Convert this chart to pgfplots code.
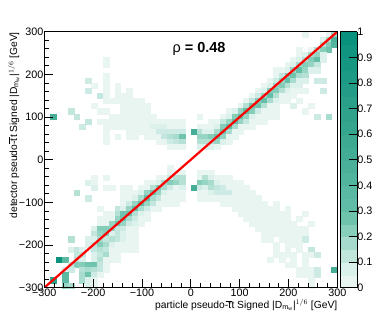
\documentclass[border=0pt]{standalone}
\usepackage{pgfplots}
\pgfplotsset{compat=1.18}
\usepackage{fontspec}
\setmainfont{Liberation Sans}
\pgfplotsset{colormap={rootteal}{rgb255(0)=(232,245,241); rgb255(1)=(232,245,241); rgb255(2)=(205,235,228); rgb255(3)=(180,225,212); rgb255(4)=(150,212,196); rgb255(5)=(120,200,178); rgb255(6)=(100,190,168); rgb255(10)=(70,174,150); rgb255(14)=(45,160,138); rgb255(20)=(5,145,125)}}
\newcommand{\ttbar}{t\kern0.3pt\rlap{\raisebox{0.72em}{\kern-0.55em\rule{0.6em}{0.4pt}}}t}
\begin{document}
\begin{tikzpicture}[x=1bp,y=1bp]
\path[use as bounding box] (0,0) rectangle (374,324);
\begin{axis}[
  at={(44.3bp,36.3bp)},anchor=south west,
  scale only axis,width=293bp,height=256bp,
  xmin=-300,xmax=300,ymin=-300,ymax=300,
  xtick={-300,-200,-100,0,100,200,300},
  ytick={-300,-200,-100,0,100,200,300},
  xticklabels={−300,−200,−100,0,100,200,300},
  yticklabels={−300,−200,−100,0,100,200,300},
  minor tick num=4,
  tick align=inside,
  xtick pos=bottom,ytick pos=left,
  major tick length=8.5bp,minor tick length=4.3bp,
  tick style={black,line width=0.7bp},
  axis line style={line width=0.8bp},
  tick label style={font=\fontsize{10.8bp}{12bp}\selectfont},
  xticklabel style={yshift=2bp},
  yticklabel style={xshift=2.5bp},
  point meta min=0,point meta max=1,
  colormap name=rootteal,
  colorbar sampled,
  colorbar style={samples=21,width=16.6bp,
    at={(parent axis.north east)},anchor=north west,xshift=-5.4bp,
    ytick={0,0.1,0.2,0.3,0.4,0.5,0.6,0.7,0.8,0.9,1},
    yticklabels={0,0.1,0.2,0.3,0.4,0.5,0.6,0.7,0.8,0.9,1},
    ytick pos=right,yticklabel pos=right,tick align=inside,
    major tick length=8bp,
    yticklabel style={xshift=-3.2bp,font=\fontsize{10.8bp}{12bp}\selectfont},
    axis line style={line width=0.8bp},
    tick style={black,line width=0.7bp}},
  clip mode=individual,axis on top,
]
\addplot[scatter,only marks,point meta=explicit,mark=square*,mark size=2.93bp,
  scatter/use mapped color={draw=mapped color,fill=mapped color},
  mark options={yscale=0.874,line width=0.1bp}] coordinates {
(-174,234)[.05] (-174,222)[.05] (-174,198)[.05]
(-210,186)[.1] (-174,186)[.05]
(-198,174)[.05] (-174,174)[.05] (-150,174)[.05]
(-210,162)[.1] (-174,162)[.05] (-150,162)[.05] (-126,162)[.05]
(-186,150)[.12] (-174,150)[.05] (-150,150)[.05] (-138,150)[.05] (-126,150)[.05]
(-174,138)[.05] (-162,138)[.05] (-150,138)[.05] (-138,138)[.05] (-126,138)[.05] (-114,138)[.05] (-102,138)[.05]
(-198,126)[.05] (-138,126)[.05] (-126,126)[.05] (-114,126)[.05] (-102,126)[.05] (-90,126)[.05]
(-246,114)[.12] (-186,114)[.05] (-174,114)[.05] (-138,114)[.05] (-126,114)[.05] (-114,114)[.05] (-102,114)[.05] (-90,114)[.05]
(-282,102)[.5] (-234,102)[.12] (-162,102)[.05] (-150,102)[.05] (-138,102)[.05] (-126,102)[.05] (-114,102)[.05] (-102,102)[.05] (-90,102)[.05] (-78,102)[.05]
(-210,90)[.12] (-186,90)[.05] (-174,90)[.05] (-162,90)[.05] (-150,90)[.05] (-138,90)[.05] (-126,90)[.05] (-114,90)[.05] (-102,90)[.05] (-90,90)[.05] (-78,90)[.05] (-66,90)[.05] (-54,90)[.05] (-42,90)[.05] (-30,90)[.05] (-18,90)[.05]
(-222,78)[.1] (-174,78)[.05] (-162,78)[.05] (-150,78)[.05] (-138,78)[.05] (-126,78)[.05] (-114,78)[.05] (-102,78)[.05] (-90,78)[.05] (-78,78)[.07] (-66,78)[.07] (-54,78)[.07] (-42,78)[.05] (-30,78)[.05] (-18,78)[.05]
(-174,66)[.05] (-126,66)[.05] (-114,66)[.05] (-102,66)[.05] (-90,66)[.05] (-78,66)[.05] (-66,66)[.1] (-54,66)[.1] (-42,66)[.1] (-30,66)[.1] (-18,66)[.1]
(-174,54)[.05] (-150,54)[.05] (-126,54)[.05] (-114,54)[.05] (-90,54)[.05] (-78,54)[.05] (-66,54)[.05] (-54,54)[.12] (-42,54)[.15] (-30,54)[.17] (-18,54)[.27]
(-174,42)[.05] (-66,42)[.05] (-54,42)[.05] (-42,42)[.1] (-30,42)[.12] (-18,42)[.15]
(-42,30)[.05] (-30,30)[.05] (-18,30)[.05]
% upper right
(234,294)[.05] (282,294)[.05] (294,294)[.2]
(270,282)[.07] (282,282)[.17] (294,282)[.45]
(270,270)[.15] (282,270)[.23] (294,270)[.4]
(222,258)[.05] (246,258)[.05] (258,258)[.15] (270,258)[.23] (282,258)[.27]
(222,246)[.05] (234,246)[.07] (246,246)[.17] (258,246)[.2] (270,246)[.07]
(210,234)[.05] (222,234)[.07] (234,234)[.15] (246,234)[.23] (258,234)[.3] (270,234)[.07]
(198,222)[.05] (210,222)[.07] (222,222)[.17] (234,222)[.23] (246,222)[.2] (258,222)[.12]
(174,210)[.05] (186,210)[.05] (198,210)[.07] (210,210)[.2] (222,210)[.3] (234,210)[.2] (246,210)[.07] (258,210)[.07]
(174,198)[.05] (186,198)[.12] (198,198)[.23] (210,198)[.27] (222,198)[.17] (234,198)[.15]
(162,186)[.05] (174,186)[.1] (186,186)[.2] (198,186)[.3] (210,186)[.17] (222,186)[.07] (234,186)[.07] (258,186)[.1] (270,186)[.1]
(150,174)[.05] (162,174)[.07] (174,174)[.2] (186,174)[.23] (198,174)[.15] (210,174)[.07] (222,174)[.07]
(138,162)[.05] (150,162)[.07] (162,162)[.23] (174,162)[.23] (186,162)[.15] (198,162)[.07] (210,162)[.05] (222,162)[.05] (234,162)[.05] (270,162)[.1]
(126,150)[.05] (138,150)[.1] (150,150)[.2] (162,150)[.3] (174,150)[.15] (186,150)[.05] (198,150)[.05] (210,150)[.05]
(114,138)[.05] (126,138)[.12] (138,138)[.23] (150,138)[.3] (162,138)[.17] (174,138)[.07] (186,138)[.05] (198,138)[.05] (222,138)[.05]
(102,126)[.05] (114,126)[.15] (126,126)[.27] (138,126)[.27] (150,126)[.15] (162,126)[.05] (174,126)[.05] (210,126)[.07] (246,126)[.05]
(78,114)[.05] (90,114)[.07] (102,114)[.2] (114,114)[.3] (126,114)[.23] (138,114)[.1] (150,114)[.05] (162,114)[.05] (174,114)[.05] (234,114)[.05]
(18,102)[.05] (66,102)[.05] (78,102)[.07] (90,102)[.23] (102,102)[.3] (114,102)[.2] (126,102)[.07] (138,102)[.05] (150,102)[.05] (162,102)[.05] (174,102)[.05] (258,102)[.1] (282,102)[.17]
(42,90)[.05] (54,90)[.05] (66,90)[.12] (78,90)[.2] (90,90)[.3] (102,90)[.2] (114,90)[.12] (126,90)[.05] (138,90)[.05] (150,90)[.05]
(18,78)[.05] (30,78)[.05] (42,78)[.05] (54,78)[.07] (66,78)[.23] (78,78)[.3] (90,78)[.17] (102,78)[.05] (114,78)[.05] (126,78)[.05]
(6,66)[.5] (18,66)[.15] (30,66)[.07] (42,66)[.07] (54,66)[.17] (66,66)[.27] (78,66)[.17] (90,66)[.05] (102,66)[.05]
(18,54)[.2] (30,54)[.2] (42,54)[.23] (54,54)[.27] (66,54)[.2] (78,54)[.05] (90,54)[.05]
(18,42)[.15] (30,42)[.15] (42,42)[.15] (54,42)[.2] (66,42)[.07] (78,42)[.05]
(18,30)[.07] (30,30)[.07] (42,30)[.07] (54,30)[.05]
% lower left
(-42,-18)[.05]
(-42,-30)[.05] (-30,-30)[.05] (-18,-30)[.05]
(-198,-42)[.05] (-174,-42)[.05] (-66,-42)[.05] (-54,-42)[.05] (-42,-42)[.1] (-30,-42)[.15] (-18,-42)[.15]
(-210,-54)[.07] (-198,-54)[.05] (-90,-54)[.05] (-78,-54)[.05] (-66,-54)[.07] (-54,-54)[.17] (-42,-54)[.23] (-30,-54)[.2] (-18,-54)[.15]
(-198,-66)[.07] (-174,-66)[.05] (-162,-66)[.05] (-138,-66)[.05] (-126,-66)[.05] (-102,-66)[.05] (-90,-66)[.05] (-78,-66)[.15] (-66,-66)[.23] (-54,-66)[.17] (-42,-66)[.1] (-30,-66)[.05] (-18,-66)[.07]
(-234,-78)[.15] (-138,-78)[.05] (-126,-78)[.05] (-114,-78)[.05] (-102,-78)[.07] (-90,-78)[.2] (-78,-78)[.27] (-66,-78)[.2] (-54,-78)[.07] (-42,-78)[.05] (-30,-78)[.05] (-18,-78)[.05]
(-210,-90)[.1] (-138,-90)[.05] (-126,-90)[.05] (-114,-90)[.07] (-102,-90)[.17] (-90,-90)[.3] (-78,-90)[.17] (-66,-90)[.12] (-54,-90)[.05] (-42,-90)[.05] (-30,-90)[.05] (-18,-90)[.05]
(-138,-102)[.05] (-126,-102)[.1] (-114,-102)[.2] (-102,-102)[.3] (-90,-102)[.2] (-78,-102)[.12] (-66,-102)[.05] (-54,-102)[.05] (-42,-102)[.05] (-30,-102)[.05]
(-186,-114)[.05] (-150,-114)[.12] (-138,-114)[.07] (-126,-114)[.2] (-114,-114)[.3] (-102,-114)[.17] (-90,-114)[.1] (-78,-114)[.05] (-66,-114)[.05]
(-174,-126)[.05] (-162,-126)[.05] (-150,-126)[.15] (-138,-126)[.27] (-126,-126)[.27] (-114,-126)[.15] (-102,-126)[.07] (-90,-126)[.05]
(-186,-138)[.05] (-174,-138)[.05] (-162,-138)[.05] (-150,-138)[.2] (-138,-138)[.27] (-126,-138)[.17] (-114,-138)[.1] (-102,-138)[.05] (-90,-138)[.05]
(-186,-150)[.05] (-174,-150)[.05] (-162,-150)[.2] (-150,-150)[.27] (-138,-150)[.2] (-126,-150)[.1] (-114,-150)[.07] (-102,-150)[.05]
(-198,-162)[.07] (-186,-162)[.23] (-174,-162)[.23] (-162,-162)[.2] (-150,-162)[.12] (-138,-162)[.1] (-126,-162)[.05] (-114,-162)[.05]
(-198,-174)[.12] (-186,-174)[.2] (-174,-174)[.23] (-162,-174)[.07] (-150,-174)[.12] (-138,-174)[.07] (-126,-174)[.05] (-114,-174)[.05]
(-246,-186)[.15] (-210,-186)[.07] (-198,-186)[.07] (-186,-186)[.17] (-174,-186)[.12] (-162,-186)[.15] (-150,-186)[.12] (-138,-186)[.07] (-126,-186)[.05] (-114,-186)[.05]
(-210,-198)[.07] (-198,-198)[.12] (-186,-198)[.23] (-174,-198)[.17] (-162,-198)[.07] (-150,-198)[.05] (-138,-198)[.05] (-126,-198)[.05] (-114,-198)[.05]
(-246,-210)[.07] (-234,-210)[.12] (-222,-210)[.07] (-198,-210)[.12] (-186,-210)[.15] (-174,-210)[.12] (-162,-210)[.05] (-150,-210)[.05] (-138,-210)[.05] (-126,-210)[.05] (-114,-210)[.05]
(-234,-222)[.12] (-222,-222)[.12] (-198,-222)[.07] (-186,-222)[.12] (-174,-222)[.17] (-162,-222)[.05] (-150,-222)[.05]
(-270,-234)[.95] (-258,-234)[.35] (-234,-234)[.15] (-222,-234)[.07] (-198,-234)[.07] (-186,-234)[.15] (-174,-234)[.05] (-162,-234)[.05] (-150,-234)[.05]
(-246,-246)[.12] (-234,-246)[.23] (-222,-246)[.23] (-210,-246)[.27] (-198,-246)[.27] (-186,-246)[.12] (-174,-246)[.05]
(-258,-258)[.07] (-246,-258)[.1] (-222,-258)[.15] (-210,-258)[.17] (-198,-258)[.15] (-186,-258)[.12] (-174,-258)[.05]
(-258,-270)[.35] (-222,-270)[.17] (-210,-270)[.27] (-198,-270)[.1] (-186,-270)[.05]
(-282,-282)[.7] (-258,-282)[.35] (-222,-282)[.17] (-210,-282)[.07] (-198,-282)[.05]
(-258,-294)[.2] (-246,-294)[.17] (-210,-294)[.07] (-198,-294)[.05]
% lower right
(18,-30)[.05] (30,-30)[.05] (42,-30)[.05]
(18,-42)[.05] (30,-42)[.15] (42,-42)[.07] (54,-42)[.05] (66,-42)[.05] (78,-42)[.05]
(18,-54)[.23] (30,-54)[.2] (42,-54)[.17] (54,-54)[.07] (66,-54)[.05] (78,-54)[.05] (90,-54)[.05] (102,-54)[.05]
(6,-66)[.5] (18,-66)[.1] (30,-66)[.07] (42,-66)[.15] (54,-66)[.12] (66,-66)[.1] (78,-66)[.05] (90,-66)[.05] (102,-66)[.05] (114,-66)[.05]
(18,-78)[.05] (30,-78)[.05] (42,-78)[.07] (54,-78)[.1] (66,-78)[.1] (78,-78)[.1] (90,-78)[.05] (102,-78)[.05] (114,-78)[.05] (126,-78)[.05]
(18,-90)[.05] (30,-90)[.05] (42,-90)[.05] (54,-90)[.05] (66,-90)[.05] (78,-90)[.05] (90,-90)[.05] (102,-90)[.05] (114,-90)[.05] (126,-90)[.05] (138,-90)[.05]
(66,-102)[.05] (78,-102)[.05] (90,-102)[.05] (102,-102)[.05] (114,-102)[.05] (126,-102)[.05] (138,-102)[.05] (150,-102)[.05] (174,-102)[.05]
(90,-114)[.05] (102,-114)[.05] (114,-114)[.05] (126,-114)[.05] (138,-114)[.05] (150,-114)[.05] (162,-114)[.05] (174,-114)[.05] (198,-114)[.05]
(102,-126)[.05] (114,-126)[.05] (126,-126)[.05] (138,-126)[.05] (150,-126)[.05] (162,-126)[.05] (174,-126)[.05] (186,-126)[.05] (198,-126)[.05] (234,-126)[.05]
(114,-138)[.05] (126,-138)[.05] (138,-138)[.05] (150,-138)[.05] (162,-138)[.05] (174,-138)[.05] (186,-138)[.05] (198,-138)[.05] (222,-138)[.05]
(126,-150)[.05] (138,-150)[.05] (150,-150)[.05] (162,-150)[.05] (174,-150)[.05] (186,-150)[.05] (198,-150)[.05] (210,-150)[.05] (246,-150)[.05]
(138,-162)[.05] (150,-162)[.05] (162,-162)[.05] (174,-162)[.05] (186,-162)[.05] (198,-162)[.05] (210,-162)[.05] (222,-162)[.05] (234,-162)[.05]
(150,-174)[.05] (162,-174)[.05] (174,-174)[.05] (186,-174)[.05] (198,-174)[.05] (210,-174)[.05] (222,-174)[.05] (234,-174)[.05]
(150,-186)[.05] (162,-186)[.05] (186,-186)[.05] (198,-186)[.05] (210,-186)[.05] (222,-186)[.05] (234,-186)[.1]
(174,-198)[.05] (198,-198)[.05] (210,-198)[.05] (222,-198)[.05]
(174,-210)[.05] (198,-210)[.05] (222,-210)[.05] (246,-210)[.12]
(174,-222)[.05] (186,-222)[.05] (198,-222)[.05] (210,-222)[.05] (234,-222)[.05] (246,-222)[.05] (258,-222)[.1]
(162,-234)[.05] (186,-234)[.05] (210,-234)[.05] (234,-234)[.05]
(198,-246)[.05] (210,-246)[.05] (234,-246)[.05]
(222,-258)[.05] (234,-258)[.05] (246,-258)[.05] (258,-258)[.1] (294,-258)[.5]
(222,-270)[.05] (234,-270)[.05] (246,-270)[.05] (258,-270)[.1]
(246,-282)[.05]
(246,-294)[.05]
};
\addplot[red,line width=2.2bp] coordinates {(-300,-300) (300,300)};
\end{axis}
\node[anchor=base] at (199,272) {\fontsize{14.5bp}{16bp}\selectfont ρ \textbf{= 0.48}};
\node[anchor=base east,inner sep=0pt,font=\fontsize{10.3bp}{11bp}\selectfont] at (337.5,15.5)
  {particle pseudo-\ttbar{} Signed |D$_{\mathrm{m_w}}$|$^{1/6}$ [GeV]};
\node[anchor=base east,rotate=90,inner sep=0pt,font=\fontsize{10.3bp}{11bp}\selectfont] at (17,292)
  {detector pseudo-\ttbar{} Signed |D$_{\mathrm{m_w}}$|$^{1/6}$ [GeV]};
\end{tikzpicture}
\end{document}
